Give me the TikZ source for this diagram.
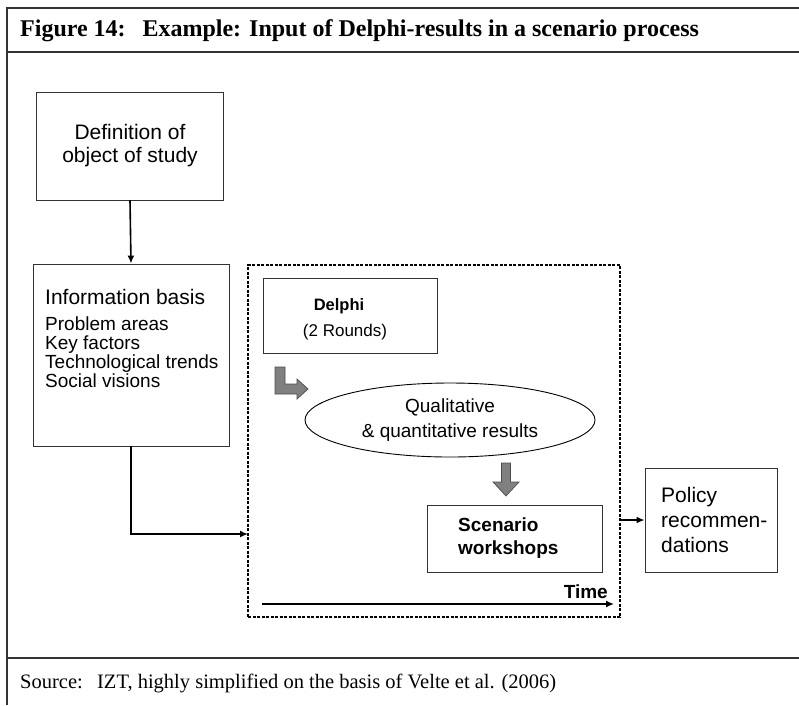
\documentclass[tikz,border=0pt]{standalone}
\usepackage{fontspec}
\setmainfont{Liberation Serif}
\setsansfont{Liberation Sans}
\usetikzlibrary{arrows.meta, shapes.geometric}
\newcommand{\fsz}[2]{\fontsize{#1}{#2}\selectfont}
\begin{document}
\begin{tikzpicture}[x=1pt, y=-1pt,
  box/.style={draw=black!80, rectangle, line width=0.9pt, inner sep=0pt},
  txt/.style={font=\sffamily\fsz{21}{23}, inner sep=0pt, align=left},
  conn/.style={line width=1.6pt, -{Latex[length=8pt, width=7pt]}},
  grayarrow/.style={draw=black!70, fill=black!50, line width=0.7pt},
  frame/.style={draw=black!80, line width=1.3pt}]
\useasboundingbox (0,0) rectangle (799,705);
\draw[frame] (7,705) -- (7,8) -- (799,8);
\draw[frame] (7,52) -- (799,52);
\draw[frame] (7,658) -- (799,658);
\node (title) [anchor=west, inner sep=0pt, font=\bfseries\fsz{24}{26}] at (20,31) {Figure 14:\hspace{0.7em}Example: Input of Delphi-results in a scenario process};
\node (source) [anchor=west, inner sep=0pt, font=\fsz{20.5}{22}] at (20,683) {Source:\hspace{0.7em}IZT, highly simplified on the basis of Velte et al. (2006)};

\node (definition) [box, minimum width=187pt, minimum height=108pt, txt, align=center] at (130,146) {Definition of\\object of study};
\node (info) [box, minimum width=196pt, minimum height=182pt] at (131,355) {};
\node (infotitle) [txt, anchor=west] at (45,297) {Information basis};
\node (infolist) [txt, font=\sffamily\fsz{19}{19}, anchor=north west] at (45,317) {Problem areas\\Key factors\\Technological trends\\Social visions};
\draw [conn] (definition.south) -- (info.north);

\node (process) [draw, dashed, dash pattern=on 3pt off 1.5pt, line width=1.3pt, rectangle, minimum width=372pt, minimum height=352pt] at (434,441) {};
\coordinate (entry) at (248,534);
\draw [conn] (info.south) |- (entry);

\node (delphi) [box, minimum width=174pt, minimum height=75pt] at (350,316) {};
\node (delphitext) [txt, font=\sffamily\bfseries\fsz{16.5}{18}] at (339,306) {Delphi};
\node (rounds) [txt, font=\sffamily\fsz{17}{18}] at (345,332) {(2 Rounds)};

\node (results) [draw, ellipse, line width=0.9pt, minimum width=290pt, minimum height=74pt, txt, font=\sffamily\fsz{19}{25}, align=center] at (450,420) {Qualitative\\\& quantitative results};

\node (scenario) [box, minimum width=175pt, minimum height=67pt] at (514.5,538.5) {};
\node (scenariotext) [txt, font=\sffamily\bfseries\fsz{19}{23}, anchor=west] at (458,538) {Scenario\\workshops};

% gray block arrows
\draw [grayarrow] (275,367) -- (285,367) -- (285,384) -- (297,384) -- (297,379) -- (308,389) -- (297,399) -- (297,394) -- (275,394) -- cycle;
\draw [grayarrow] (501.5,463) -- (510.5,463) -- (510.5,482) -- (519,482) -- (506,496) -- (493,482) -- (501.5,482) -- cycle;

\coordinate (tstart) at (262,604);
\coordinate (tend) at (614,604);
\draw [conn, line width=1.4pt] (tstart) -- (tend);
\node (timelabel) [txt, font=\sffamily\bfseries\fsz{19}{20}, anchor=south east] at (608,599) {Time};

\node (policy) [box, minimum width=132pt, minimum height=104pt] at (711,520) {};
\node (policytext) [txt, font=\sffamily\fsz{21}{25}, anchor=west] at (661,520) {Policy\\recommen-\\dations};
\draw [conn] (process.east |- policy.west) -- (policy.west);
\end{tikzpicture}
\end{document}
